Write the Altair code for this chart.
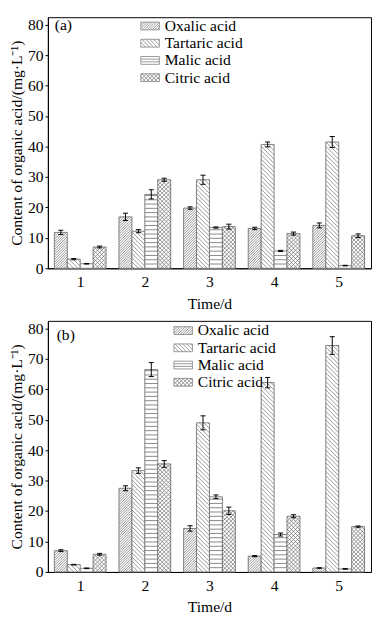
import altair as alt
import pandas as pd

days = [1, 2, 3, 4, 5]
acids = ["Oxalic acid", "Tartaric acid", "Malic acid", "Citric acid"]

# panel (a)
a_oxalic = [11.8, 16.9, 19.8, 13.1, 14.1]
a_oxalic_err = [0.7, 1.2, 0.4, 0.4, 0.8]
a_tartaric = [3.0, 12.2, 29.1, 40.7, 41.5]
a_tartaric_err = [0.2, 0.5, 1.5, 0.8, 1.8]
a_malic = [1.5, 24.3, 13.4, 5.7, 0.9]
a_malic_err = [0.1, 1.5, 0.2, 0.2, 0.1]
a_citric = [7.0, 29.1, 13.7, 11.4, 10.7]
a_citric_err = [0.3, 0.5, 0.8, 0.5, 0.6]

# panel (b)
b_oxalic = [7.0, 27.5, 14.3, 5.2, 1.3]
b_oxalic_err = [0.3, 0.8, 0.9, 0.2, 0.1]
b_tartaric = [2.4, 33.3, 49.0, 62.2, 74.4]
b_tartaric_err = [0.1, 0.9, 2.3, 1.7, 2.9]
b_malic = [1.2, 66.5, 24.7, 12.3, 1.0]
b_malic_err = [0.1, 2.3, 0.6, 0.5, 0.1]
b_citric = [5.8, 35.5, 20.1, 18.3, 14.9]
b_citric_err = [0.3, 1.1, 1.2, 0.5, 0.2]

y_ticks = [0, 10, 20, 30, 40, 50, 60, 70, 80]
x_title = "Time/d"
y_title = "Content of organic acid/(mg\u00b7L\u207b\u00b9)"


def make_df(vals, errs):
    rows = []
    for k, (acid, v, e) in enumerate(zip(acids, vals, errs)):
        for d, vv, ee in zip(days, v, e):
            rows.append(dict(day=d, acid=acid, k=k, value=vv, err=ee))
    return pd.DataFrame(rows)


FONT = "Liberation Serif"
W = 332
YMAX = 82.5
PX = W / 5.0
BAND = 0.8
BWU = BAND / 4
BW = BWU * PX
CAP = 2.6 / PX
GRAY = "#7f7f7f"
HATCH = "#6a6a6a"

R = 8.35
HW, HH = 9.5 / R, 4.0 / R


def legend_path(kind):
    parts = [f"M{-HW:.3f},{-HH:.3f}H{HW:.3f}V{HH:.3f}H{-HW:.3f}Z"]

    def seg(x0, y0, x1, y1):
        parts.append(f"M{x0:.3f},{y0:.3f}L{x1:.3f},{y1:.3f}")

    if kind in ("fwd", "cross"):
        sp = (2.6 if kind == "fwd" else 4.0) / R
        c = -HW - HH + sp / 2
        while c < HW + HH:
            xa = max(-HW, c - HH)
            xb = min(HW, c + HH)
            if xb > xa + 0.02:
                seg(xa, -xa + c, xb, -xb + c)
            c += sp
    if kind in ("back", "cross"):
        sp = 4.0 / R
        c = -HW - HH + sp / 2
        while c < HW + HH:
            xa = max(-HW, -HH - c)
            xb = min(HW, HH - c)
            if xb > xa + 0.02:
                seg(xa, xa + c, xb, xb + c)
            c += sp
    if kind == "horiz":
        sp = 2.7 / R
        y = -HH + sp
        while y < HH - 0.05:
            seg(-HW, y, HW, y)
            y += sp
    return "".join(parts)


shape_paths = [legend_path("fwd"), legend_path("back"), legend_path("horiz"), legend_path("cross")]

XSCALE = alt.Scale(domain=[0.5, 5.5], nice=False, zero=False)
YSCALE = alt.Scale(domain=[0, YMAX], nice=False, zero=False)
XAXIS = alt.Axis(values=days, format="d", tickSize=0, labelPadding=6,
                 title=x_title, titlePadding=6, grid=False)
YAXIS = alt.Axis(values=y_ticks, tickSize=3, labelPadding=2, title=y_title,
                 titlePadding=3, grid=False)


def X(f):
    return alt.X(f, scale=XSCALE, axis=XAXIS)


def Y(f):
    return alt.Y(f, scale=YSCALE, axis=YAXIS)


def panel(df, H, tag, lx, ly, tx, ty):
    PY = H / YMAX
    base = alt.Chart(df).transform_calculate(
        xs=f"datum.day - {BAND / 2} + {BWU} * datum.k",
        xe=f"datum.day - {BAND / 2} + {BWU} * (datum.k + 1)",
        xc=f"datum.day - {BAND / 2} + {BWU} * (datum.k + 0.5)",
        hp=f"datum.value * {PY}",
        lo="datum.value - datum.err",
        hi="datum.value + datum.err",
    )
    bars = base.mark_rect(fill="white", stroke=GRAY, strokeWidth=1).encode(
        x=X("xs:Q"), x2="xe:Q", y=Y("value:Q"), y2=alt.datum(0)
    )

    fwd = base.transform_filter(
        "datum.acid == 'Oxalic acid' || datum.acid == 'Citric acid'"
    ).transform_calculate(
        s="datum.acid == 'Oxalic acid' ? 2.6 : 4.2"
    ).transform_calculate(
        c=f"sequence(-{BW} + datum.s / 2, datum.hp, datum.s)"
    ).transform_flatten(["c"]).transform_calculate(
        u0="max(0, -datum.c)", u1=f"min({BW}, datum.hp - datum.c)"
    ).transform_filter("datum.u1 > datum.u0 + 0.3").transform_calculate(
        hx1=f"datum.xs + datum.u0 / {PX}",
        hy1=f"(datum.u0 + datum.c) / {PY}",
        hx2=f"datum.xs + datum.u1 / {PX}",
        hy2=f"(datum.u1 + datum.c) / {PY}",
    ).mark_rule(color=HATCH, strokeWidth=0.7).encode(
        x=X("hx1:Q"), x2="hx2:Q", y=Y("hy1:Q"), y2="hy2:Q",
    )

    back = base.transform_filter(
        "datum.acid == 'Tartaric acid' || datum.acid == 'Citric acid'"
    ).transform_calculate(
        s="datum.acid == 'Tartaric acid' ? 4.4 : 4.2"
    ).transform_calculate(
        c=f"sequence(datum.s / 2, datum.hp + {BW}, datum.s)"
    ).transform_flatten(["c"]).transform_calculate(
        u0="max(0, datum.c - datum.hp)", u1=f"min({BW}, datum.c)"
    ).transform_filter("datum.u1 > datum.u0 + 0.3").transform_calculate(
        hx1=f"datum.xs + datum.u0 / {PX}",
        hy1=f"(datum.c - datum.u0) / {PY}",
        hx2=f"datum.xs + datum.u1 / {PX}",
        hy2=f"(datum.c - datum.u1) / {PY}",
    ).mark_rule(color=HATCH, strokeWidth=0.7).encode(
        x=X("hx1:Q"), x2="hx2:Q", y=Y("hy1:Q"), y2="hy2:Q",
    )

    horiz = base.transform_filter("datum.acid == 'Malic acid'").transform_calculate(
        c="sequence(4.4, datum.hp - 1, 4.4)"
    ).transform_flatten(["c"]).transform_calculate(
        hy=f"datum.c / {PY}"
    ).mark_rule(color=HATCH, strokeWidth=0.8).encode(
        x=X("xs:Q"), x2="xe:Q", y=Y("hy:Q")
    )

    err = base.mark_rule(color="black", strokeWidth=1).encode(
        x=X("xc:Q"), y=Y("lo:Q"), y2="hi:Q"
    )
    caps = base.transform_fold(["lo", "hi"], as_=["which", "yc"]).transform_calculate(
        cx0=f"datum.xc - {CAP}", cx1=f"datum.xc + {CAP}"
    ).mark_rule(color="black", strokeWidth=1).encode(
        x=X("cx0:Q"), x2="cx1:Q", y=Y("yc:Q")
    )

    leg = base.mark_point(filled=False, color=GRAY, strokeWidth=0.8, size=1).encode(
        x=alt.value(1), y=alt.value(1), opacity=alt.value(0),
        shape=alt.Shape(
            "acid:N",
            scale=alt.Scale(domain=acids, range=shape_paths),
            legend=alt.Legend(
                title=None, orient="none", legendX=lx, legendY=ly,
                symbolSize=R * R * 4, symbolStrokeColor=GRAY, symbolStrokeWidth=0.8,
                symbolOpacity=1, symbolFillColor="white",
                labelFont=FONT, labelFontSize=16, labelColor="black",
                labelOffset=6, rowPadding=0.7, padding=0,
            ),
        ),
    )

    tagc = alt.Chart(pd.DataFrame({"t": [tag]})).mark_text(
        align="left", baseline="middle", font=FONT, fontSize=16, color="black"
    ).encode(text="t:N", x=alt.value(tx), y=alt.value(ty))

    return alt.layer(bars, fwd, back, horiz, err, caps, leg, tagc).properties(width=W, height=H)


top = panel(make_df([a_oxalic, a_tartaric, a_malic, a_citric],
                    [a_oxalic_err, a_tartaric_err, a_malic_err, a_citric_err]),
            258, "(a)", 96, 0, 7, 8)
bottom = panel(make_df([b_oxalic, b_tartaric, b_malic, b_citric],
                       [b_oxalic_err, b_tartaric_err, b_malic_err, b_citric_err]),
               258, "(b)", 130, 1, 9, 15)

chart = alt.vconcat(top, bottom, spacing=8).resolve_scale(
    shape="independent"
).resolve_legend(shape="independent").properties(
    padding=0, background="white"
).configure_view(
    stroke="black", strokeWidth=1
).configure_axis(
    labelFont=FONT, titleFont=FONT, labelFontSize=16, titleFontSize=16,
    titleFontWeight="normal", labelColor="black", titleColor="black",
    domainColor="black", tickColor="black", domainWidth=1, tickWidth=1,
).configure_legend(labelFont=FONT, labelFontSize=16)

chart.save("out.html", embed_options={"renderer": "svg", "actions": False})
